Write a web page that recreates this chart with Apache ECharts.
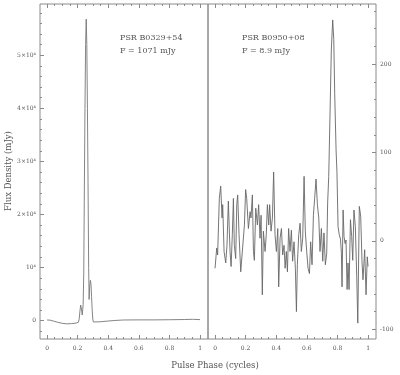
<!DOCTYPE html>
<html><head><meta charset="utf-8">
<script src="https://cdn.jsdelivr.net/npm/echarts@6/dist/echarts.min.js"></script>
<style>html,body{margin:0;padding:0;background:#fff}#c{width:400px;height:375px}</style>
</head><body><div id="c"></div>
<script>
// PSR B0329+54 profile (left panel)
const leftPhase = [0, 0.02, 0.04, 0.07, 0.1, 0.13, 0.16, 0.19, 0.205, 0.21, 0.215, 0.22, 0.225, 0.23,
  0.236, 0.24, 0.244, 0.248, 0.252, 0.256, 0.26, 0.264, 0.268, 0.272, 0.275, 0.279, 0.283, 0.287,
  0.291, 0.295, 0.299, 0.303, 0.31, 0.35, 0.4, 0.45, 0.5, 0.6, 0.7, 0.8, 0.9, 0.95, 1.0];
const leftFlux = [130, 100, -60, -300, -500, -600, -550, -450, -300, 300, 1800, 2950, 2200, 1070,
  3000, 9000, 25000, 40000, 52000, 56800, 52000, 40000, 26000, 10000, 4000, 6500, 7600, 7000,
  4500, 2000, 300, -250, -300, -200, -60, 50, 130, 150, 150, 180, 220, 260, 200];

// PSR B0950+08 profile (right panel)
const rightPhase = [0.000, 0.011, 0.017, 0.028, 0.037, 0.046, 0.050, 0.059, 0.070, 0.078, 0.087, 0.098,
  0.105, 0.113, 0.120, 0.126, 0.135, 0.142, 0.148, 0.157, 0.168, 0.179, 0.192, 0.200, 0.207, 0.218,
  0.229, 0.235, 0.244, 0.251, 0.257, 0.266, 0.277, 0.285, 0.294, 0.301, 0.309, 0.316, 0.327, 0.335,
  0.342, 0.351, 0.357, 0.366, 0.375, 0.383, 0.392, 0.401, 0.410, 0.416, 0.425, 0.434, 0.442, 0.451,
  0.458, 0.466, 0.473, 0.481, 0.490, 0.499, 0.507, 0.516, 0.525, 0.532, 0.538, 0.547, 0.556, 0.564,
  0.573, 0.582, 0.590, 0.599, 0.608, 0.617, 0.625, 0.634, 0.643, 0.651, 0.660, 0.669, 0.678, 0.686,
  0.695, 0.704, 0.712, 0.721, 0.730, 0.736, 0.743, 0.752, 0.760, 0.769, 0.776, 0.782, 0.791, 0.797,
  0.804, 0.812, 0.820, 0.826, 0.830, 0.837, 0.843, 0.850, 0.856, 0.863, 0.869, 0.876, 0.885, 0.893,
  0.900, 0.908, 0.917, 0.926, 0.933, 0.943, 0.952, 0.961, 0.967, 0.978, 0.987, 0.995, 1.000];
const rightFlux = [-31, -8, -16, 48, 62, 26, 41, -12, -25, -5, 45, -12,
  -29, 7, 48, -5, -20, 41, 52, 7, -35, -37, 18, 58, 48, 14,
  33, 26, 52, -12, -22, 37, 18, 41, 3, 29, -61, 11, -12, 7,
  41, 18, 41, 11, 26, 78, 7, -12, 14, -52, 3, 14, -16, -5,
  -31, -12, -35, 14, -12, 12, -23, -1, -31, -80, -27, 7, 20, -12,
  3, 73, 11, -12, -31, -37, -1, -27, 29, 48, 70, 41, 26, -12,
  14, -23, 9, -27, -14, 43, 73, 148, 216, 250, 228, 167, 103, 77,
  16, 7, 2, -14, -52, 35, 5, -3, 1, -55, -25, -55, 24, 5,
  -22, 35, 16, -40, -93, 39, 28, -25, -44, -10, -61, -18, -29];

// Tick values and labels
const phaseTicks = [0, 0.2, 0.4, 0.6, 0.8, 1];
const phaseLabels = ['0', '0.2', '0.4', '0.6', '0.8', '1'];
const phaseMinor = [0, 0.05, 0.1, 0.15, 0.2, 0.25, 0.3, 0.35, 0.4, 0.45, 0.5, 0.55, 0.6, 0.65, 0.7, 0.75, 0.8, 0.85, 0.9, 0.95, 1];
const leftTicks = [0, 10000, 20000, 30000, 40000, 50000];
const leftLabels = ['0', '10\u2074', '2\u00d710\u2074', '3\u00d710\u2074', '4\u00d710\u2074', '5\u00d710\u2074'];
const leftMinor = [-2000, 0, 2000, 4000, 6000, 8000, 10000, 12000, 14000, 16000, 18000, 20000, 22000, 24000, 26000, 28000,
  30000, 32000, 34000, 36000, 38000, 40000, 42000, 44000, 46000, 48000, 50000, 52000, 54000, 56000, 58000];
const rightTicks = [-100, 0, 100, 200];
const rightLabels = ['-100', '0', '100', '200'];
const rightMinor = [-100, -80, -60, -40, -20, 0, 20, 40, 60, 80, 100, 120, 140, 160, 180, 200, 220, 240, 260];

const FONT = 'DejaVu Serif';
const TICK = '#8a8a8a';
const TXT = '#555';
const PH_MIN = -0.046, PH_MAX = 1.052;

function lookup(vals, labels) {
  return v => { for (let i = 0; i < vals.length; i++) if (Math.abs(vals[i] - v) < 1e-6) return labels[i]; return ''; };
}
function xAx(gi, pos, ticks, len, withLabels) {
  return {
    type: 'value', gridIndex: gi, position: pos, min: PH_MIN, max: PH_MAX,
    axisLine: { show: false, onZero: false }, splitLine: { show: false },
    axisTick: { show: true, inside: true, length: len, customValues: ticks, lineStyle: { color: TICK, width: 1 } },
    axisLabel: withLabels ? { show: true, customValues: phaseTicks, margin: 6, fontFamily: FONT, fontSize: 6, color: TXT,
      formatter: lookup(phaseTicks, phaseLabels) } : { show: false }
  };
}
function yAx(gi, pos, min, max, ticks, len, labVals, labs) {
  return {
    type: 'value', gridIndex: gi, position: pos, min: min, max: max,
    axisLine: { show: false, onZero: false }, splitLine: { show: false },
    axisTick: { show: true, inside: true, length: len, customValues: ticks, lineStyle: { color: TICK, width: 1 } },
    axisLabel: labVals ? { show: true, customValues: labVals, margin: 4, fontFamily: FONT, fontSize: 6, color: TXT,
      formatter: lookup(labVals, labs) } : { show: false }
  };
}

const L_MIN = -3450, L_MAX = 59650, R_MIN = -111, R_MAX = 268;

const chart = echarts.init(document.getElementById('c'), null, { renderer: 'canvas' });
chart.setOption({
  animation: false,
  backgroundColor: '#fff',
  grid: [
    { left: 40, top: 4, width: 168, height: 335, show: true, borderColor: TICK, borderWidth: 1, backgroundColor: 'transparent' },
    { left: 208, top: 4, width: 168, height: 335, show: true, borderColor: TICK, borderWidth: 1, backgroundColor: 'transparent' }
  ],
  xAxis: [
    xAx(0, 'bottom', phaseTicks, 4, true),
    xAx(0, 'bottom', phaseMinor, 2, false),
    xAx(0, 'top', phaseTicks, 4, false),
    xAx(0, 'top', phaseMinor, 2, false),
    xAx(1, 'bottom', phaseTicks, 4, true),
    xAx(1, 'bottom', phaseMinor, 2, false),
    xAx(1, 'top', phaseTicks, 4, false),
    xAx(1, 'top', phaseMinor, 2, false)
  ],
  yAxis: [
    yAx(0, 'left', L_MIN, L_MAX, leftTicks, 4, leftTicks, leftLabels),
    yAx(0, 'left', L_MIN, L_MAX, leftMinor, 2, null, null),
    yAx(1, 'right', R_MIN, R_MAX, rightTicks, 4, rightTicks, rightLabels),
    yAx(1, 'right', R_MIN, R_MAX, rightMinor, 2, null, null)
  ],
  series: [
    { type: 'line', xAxisIndex: 0, yAxisIndex: 0, symbol: 'none', silent: true,
      data: leftPhase.map((p, i) => [p, leftFlux[i]]), lineStyle: { color: '#777', width: 0.9 } },
    { type: 'line', xAxisIndex: 4, yAxisIndex: 2, symbol: 'none', silent: true,
      data: rightPhase.map((p, i) => [p, rightFlux[i]]), lineStyle: { color: '#666', width: 0.9 } }
  ],
  graphic: [
    { type: 'text', x: 120, y: 38, style: { text: 'PSR B0329+54', fontFamily: FONT, fontSize: 8, fill: TXT, textVerticalAlign: 'middle' } },
    { type: 'text', x: 120, y: 50.5, style: { text: 'F = 1071 mJy', fontFamily: FONT, fontSize: 8, fill: TXT, textVerticalAlign: 'middle' } },
    { type: 'text', x: 242, y: 38, style: { text: 'PSR B0950+08', fontFamily: FONT, fontSize: 8, fill: TXT, textVerticalAlign: 'middle' } },
    { type: 'text', x: 242, y: 50.5, style: { text: 'F = 8.9 mJy', fontFamily: FONT, fontSize: 8, fill: TXT, textVerticalAlign: 'middle' } },
    { type: 'text', x: 215, y: 366, style: { text: 'Pulse Phase (cycles)', fontFamily: FONT, fontSize: 8.5, fill: TXT, textAlign: 'center', textVerticalAlign: 'middle' } },
    { type: 'text', x: 8.5, y: 171, rotation: Math.PI / 2, style: { text: 'Flux Density (mJy)', fontFamily: FONT, fontSize: 8.5, fill: TXT, textAlign: 'center', textVerticalAlign: 'middle' } }
  ]
});
</script>
</body></html>
